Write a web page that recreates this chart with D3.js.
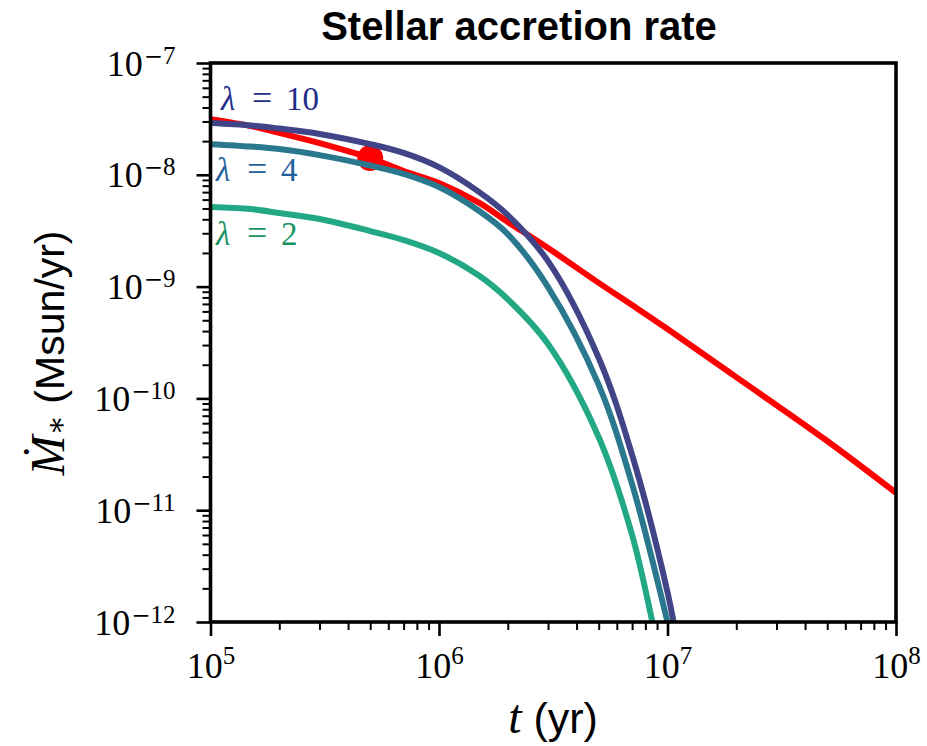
<!DOCTYPE html>
<html>
<head>
<meta charset="utf-8">
<script src="https://cdn.jsdelivr.net/npm/d3@7"></script>
<style>
  body { margin: 0; background: #fff; }
  svg { display: block; }
</style>
</head>
<body>
<svg id="chart" width="927" height="746"></svg>
<script>
// Time grid (yr) and accretion rates (Msun/yr)
const redTimes = [1e5, 1.5e5, 2e5, 3e5, 5e5, 7e5, 1e6, 1.5e6, 2e6, 3e6, 5e6, 7e6, 1e7, 2e7, 5e7, 1e8];
const redRate  = [3.15e-8, 2.73e-8, 2.37e-8, 1.92e-8, 1.41e-8, 1.08e-8, 8.45e-9, 5.6e-9, 3.79e-9,
                  2.21e-9, 1.08e-9, 6.84e-10, 4.18e-10, 1.55e-10, 4.16e-11, 1.43e-11];

const lam10Times = [1e5, 1.5e5, 2e5, 3e5, 5e5, 7e5, 1e6, 1.5e6, 2e6, 3e6, 5e6, 7e6, 1e7, 1.1e7];
const lam10Rate  = [2.90e-8, 2.76e-8, 2.59e-8, 2.32e-8, 1.88e-8, 1.57e-8, 1.17e-8, 7.0e-9, 4.36e-9,
                    1.69e-9, 2.30e-10, 3.12e-11, 1.85e-12, 6.8e-13];

const lam4Times = [1e5, 1.5e5, 2e5, 3e5, 5e5, 7e5, 1e6, 1.5e6, 2e6, 3e6, 5e6, 7e6, 1e7, 1.1e7];
const lam4Rate  = [1.88e-8, 1.79e-8, 1.70e-8, 1.50e-8, 1.21e-8, 1.02e-8, 7.78e-9, 4.74e-9, 2.95e-9,
                   9.9e-10, 1.32e-10, 1.71e-11, 1.0e-12, 4.3e-13];

const lam2Times = [1e5, 1.5e5, 2e5, 3e5, 5e5, 7e5, 1e6, 1.5e6, 2e6, 3e6, 5e6, 7e6, 8.5e6, 9e6];
const lam2Rate  = [5.15e-9, 4.94e-9, 4.55e-9, 4.02e-9, 3.14e-9, 2.61e-9, 2.0e-9, 1.25e-9, 7.7e-10,
                   3.07e-10, 4.5e-11, 6.0e-12, 1.1e-12, 6.2e-13];

// Highlighted point on the red curve
const markerPoint = [5e5, 1.41e-8];

const xMajor = [1e5, 1e6, 1e7, 1e8];
const xExponents = ["5", "6", "7", "8"];
const yMajor = [1e-12, 1e-11, 1e-10, 1e-9, 1e-8, 1e-7];
const yExponents = ["12", "11", "10", "9", "8", "7"];

const seriesInfo = [
  { times: lam10Times, rate: lam10Rate, color: "#414487", text: "#1f2d88", lx: 221, ly: 110, val: "10" },
  { times: lam4Times,  rate: lam4Rate,  color: "#2a788e", text: "#21609c", lx: 216, ly: 181, val: "4" },
  { times: lam2Times,  rate: lam2Rate,  color: "#22a884", text: "#1a9262", lx: 216, ly: 245, val: "2" }
];

const svg = d3.select("#chart");
const plotLeft = 210.5, plotRight = 896, plotTop = 63, plotBottom = 622;

const x = d3.scaleLog().domain([1e5, 1e8]).range([plotLeft, plotRight]);
const y = d3.scaleLog().domain([1e-12, 1e-7]).range([plotBottom, plotTop]);

const serif = "'Liberation Serif', 'DejaVu Serif', serif";
const sans = "'Liberation Sans', Arial, Helvetica, sans-serif";

svg.append("defs").append("clipPath").attr("id", "plotclip")
  .append("rect").attr("x", plotLeft).attr("y", plotTop)
  .attr("width", plotRight - plotLeft).attr("height", plotBottom - plotTop);

// Minor tick values: 2..9 within each decade
function minorTicks(lo, hi) {
  const out = [];
  for (let e = lo; e < hi; e++) {
    for (let m = 2; m <= 9; m++) out.push(m * Math.pow(10, e));
  }
  return out;
}
const xMinor = minorTicks(5, 8);
const yMinor = minorTicks(-12, -7);

// Axes
function styleAxis(g, width) {
  g.select(".domain").remove();
  g.selectAll(".tick line").attr("stroke", "#000").attr("stroke-width", width);
}
svg.append("g").attr("transform", `translate(0,${plotBottom})`)
  .call(d3.axisBottom(x).tickValues(xMinor).tickSize(8).tickFormat(() => ""))
  .call(g => styleAxis(g, 2));
const xAxisMajor = svg.append("g").attr("transform", `translate(0,${plotBottom})`)
  .call(d3.axisBottom(x).tickValues(xMajor).tickSize(14).tickFormat(() => ""))
  .call(g => styleAxis(g, 2.6));

svg.append("g").attr("transform", `translate(${plotLeft},0)`)
  .call(d3.axisLeft(y).tickValues(yMinor).tickSize(8).tickFormat(() => ""))
  .call(g => styleAxis(g, 2));
const yAxisMajor = svg.append("g").attr("transform", `translate(${plotLeft},0)`)
  .call(d3.axisLeft(y).tickValues(yMajor).tickSize(14).tickFormat(() => ""))
  .call(g => styleAxis(g, 2.6));

// Power-of-ten tick labels
xAxisMajor.selectAll(".tick").each(function(d, i) {
  const t = d3.select(this).append("text")
    .attr("x", 0).attr("y", 56)
    .attr("fill", "#000").attr("text-anchor", "middle")
    .style("font-family", serif).style("font-size", "36px");
  t.append("tspan").text("10");
  t.append("tspan").attr("dy", -14).style("font-size", "25px").text(xExponents[i]);
});
yAxisMajor.selectAll(".tick").each(function(d, i) {
  const t = d3.select(this).append("text")
    .attr("x", -35).attr("y", 12)
    .attr("fill", "#000").attr("text-anchor", "end")
    .style("font-family", serif).style("font-size", "36px");
  t.append("tspan").text("10");
  t.append("tspan").attr("dy", -12).attr("dx", 1)
    .style("font-family", "'DejaVu Serif', serif").style("font-size", "23px").text("\u2212");
  t.append("tspan").style("font-size", "25px").text(yExponents[i]);
});

// Curves
const plot = svg.append("g").attr("clip-path", "url(#plotclip)");
const line = d3.line().x(d => x(d[0])).y(d => y(d[1])).curve(d3.curveCatmullRom.alpha(0.5));

plot.append("path")
  .datum(d3.zip(redTimes, redRate))
  .attr("fill", "none").attr("stroke", "#ff0000").attr("stroke-width", 6)
  .attr("d", line);
plot.append("circle")
  .attr("cx", x(markerPoint[0])).attr("cy", y(markerPoint[1])).attr("r", 13)
  .attr("fill", "#ff0000");

seriesInfo.forEach(s => {
  plot.append("path")
    .datum(d3.zip(s.times, s.rate))
    .attr("fill", "none").attr("stroke", s.color).attr("stroke-width", 6)
    .attr("d", line);
});

// Curve labels: italic lambda, equals sign, value
seriesInfo.forEach(s => {
  const g = svg.append("g").attr("fill", s.text)
    .style("font-family", serif).style("font-size", "33px");
  g.append("text").attr("x", s.lx).attr("y", s.ly).style("font-style", "italic").text("\u03bb");
  g.append("text").attr("x", s.lx + 31).attr("y", s.ly).style("font-size", "36px").text("=");
  g.append("text").attr("x", s.lx + 65).attr("y", s.ly).text(s.val);
});

// Frame
svg.append("rect")
  .attr("x", plotLeft).attr("y", plotTop)
  .attr("width", plotRight - plotLeft).attr("height", plotBottom - plotTop)
  .attr("fill", "none").attr("stroke", "#000").attr("stroke-width", 3.6);

// Title
svg.append("text")
  .attr("x", 519).attr("y", 40)
  .attr("text-anchor", "middle").attr("fill", "#000")
  .style("font-family", sans).style("font-weight", "bold").style("font-size", "40px")
  .text("Stellar accretion rate");

// X axis label
const xl = svg.append("text")
  .attr("x", 553).attr("y", 733)
  .attr("text-anchor", "middle").attr("fill", "#000");
xl.append("tspan").style("font-family", serif).style("font-style", "italic").style("font-size", "48px").text("t");
xl.append("tspan").style("font-family", sans).style("font-size", "43px").text(" (yr)");

// Y axis label
const yl = svg.append("text")
  .attr("transform", "translate(64,353) rotate(-90)")
  .attr("text-anchor", "middle").attr("fill", "#000");
yl.append("tspan").style("font-family", serif).style("font-style", "italic").style("font-size", "48px").text("\u1e40");
yl.append("tspan").attr("dy", 2).style("font-family", serif).style("font-size", "30px").text("\u2217");
yl.append("tspan").attr("dy", -2).style("font-family", sans).style("font-size", "41px").text(" (Msun/yr)");
</script>
</body>
</html>
